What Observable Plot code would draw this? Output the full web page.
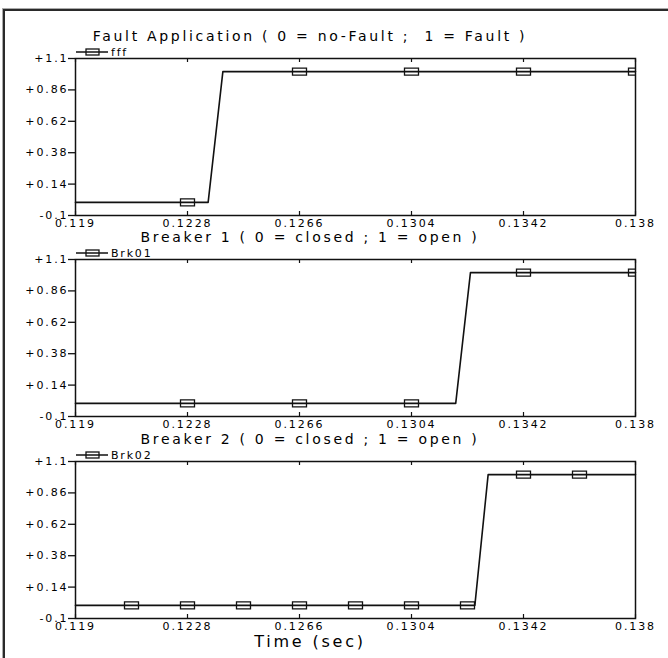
<!DOCTYPE html>
<html><head><meta charset="utf-8">
<script src="https://cdn.jsdelivr.net/npm/d3@7"></script>
<script src="https://cdn.jsdelivr.net/npm/@observablehq/plot@0.6"></script>
<style>
html,body{margin:0;padding:0;background:#fff;}
body{width:668px;height:658px;overflow:hidden;position:relative;font-family:"DejaVu Sans",sans-serif;color:#000;}
#frame{position:absolute;left:3px;top:9px;width:720px;height:720px;border-left:2px solid #2a2a2a;border-top:2px solid #2a2a2a;box-shadow:-1px -1px 0 #aaa;}
.title{position:absolute;left:310px;transform:translate(-50%,-50%);font-size:14px;letter-spacing:2.7px;white-space:nowrap;}
.xlabel{position:absolute;left:310px;transform:translate(-50%,-50%);font-size:16px;letter-spacing:2.8px;white-space:nowrap;}
.legend{position:absolute;left:76px;display:flex;align-items:center;height:10px;transform:translateY(-50%);font-size:11px;letter-spacing:1.8px;}
.legend svg{display:block;margin-right:3px;}
.panel{position:absolute;left:0;}
.panel svg text{letter-spacing:1.9px;}
</style></head>
<body>
<div id="frame"></div>
<div id="root"></div>
<script>
// ---- data ----
const xTicks = [0.119, 0.1228, 0.1266, 0.1304, 0.1342, 0.138];
const xTickLabels = ["0.119", "0.1228", "0.1266", "0.1304", "0.1342", "0.138"];
const yTicks = [-0.1, 0.14, 0.38, 0.62, 0.86, 1.1];
const yTickLabels = ["-0.1", "+0.14", "+0.38", "+0.62", "+0.86", "+1.1"];

const titles = [
  "Fault Application ( 0 = no-Fault ;\u00a0 1 = Fault )",
  "Breaker 1 ( 0 = closed ; 1 = open )",
  "Breaker 2 ( 0 = closed ; 1 = open )"
];
const seriesNames = ["fff", "Brk01", "Brk02"];
const xAxisTitle = "Time (sec)";

const fffTime = [0.119, 0.1235, 0.1240, 0.138];
const fffValue = [0, 0, 1, 1];
const fffMarkTime = [0.1228, 0.1266, 0.1304, 0.1342, 0.138];
const fffMarkValue = [0, 1, 1, 1, 1];

const brk01Time = [0.119, 0.1319, 0.1324, 0.138];
const brk01Value = [0, 0, 1, 1];
const brk01MarkTime = [0.1228, 0.1266, 0.1304, 0.1342, 0.138];
const brk01MarkValue = [0, 0, 0, 1, 1];

const brk02Time = [0.119, 0.13255, 0.1330, 0.138];
const brk02Value = [0, 0, 1, 1];
const brk02MarkTime = [0.1209, 0.1228, 0.1247, 0.1266, 0.1285, 0.1304, 0.1323, 0.1342, 0.1361];
const brk02MarkValue = [0, 0, 0, 0, 0, 0, 0, 1, 1];

// ---- build ----
const series = [
  {time: fffTime, value: fffValue, mt: fffMarkTime, mv: fffMarkValue},
  {time: brk01Time, value: brk01Value, mt: brk01MarkTime, mv: brk01MarkValue},
  {time: brk02Time, value: brk02Value, mt: brk02MarkTime, mv: brk02MarkValue}
];

const rectSymbol = {draw(ctx) { ctx.moveTo(-7, -3.5); ctx.lineTo(7, -3.5); ctx.lineTo(7, 3.5); ctx.lineTo(-7, 3.5); ctx.closePath(); }};

const frameTops = [58, 259, 461];
const plotH = 157, mTop = 6, mBottom = 18;
const root = document.getElementById("root");

series.forEach((s, i) => {
  const rows = s.time.map((t, j) => ({t, v: s.value[j]}));
  const marks = s.mt.map((t, j) => ({t, v: s.mv[j]}));

  const title = document.createElement("div");
  title.className = "title";
  title.textContent = titles[i];
  title.style.top = (frameTops[i] - 22) + "px";
  root.appendChild(title);

  const leg = document.createElement("div");
  leg.className = "legend";
  leg.style.top = (frameTops[i] - 6) + "px";
  leg.innerHTML = `<svg width="32" height="10"><line x1="0" y1="5" x2="32" y2="5" stroke="#111" stroke-width="1.5"/><rect x="10" y="2" width="13" height="6" fill="none" stroke="#111" stroke-width="1.3"/></svg><span>${seriesNames[i]}</span>`;
  root.appendChild(leg);

  const chart = Plot.plot({
    width: 668,
    height: plotH + mTop + mBottom,
    marginLeft: 75, marginRight: 33, marginTop: mTop, marginBottom: mBottom,
    style: {fontFamily: "DejaVu Sans, sans-serif", fontSize: "11px", color: "#000", background: "transparent", overflow: "visible"},
    x: {domain: [xTicks[0], xTicks[xTicks.length - 1]]},
    y: {domain: [yTicks[0], yTicks[yTicks.length - 1]]},
    marks: [
      Plot.axisY({ticks: yTicks, label: null, tickFormat: d => yTickLabels[yTicks.indexOf(d)], tickSize: 7, tickPadding: 0, stroke: "#111", strokeWidth: 1.3}),
      Plot.axisX({ticks: xTicks, label: null, anchor: "bottom", tickFormat: d => xTickLabels[xTicks.indexOf(d)], tickSize: 0, tickPadding: 4}),
      Plot.axisX({ticks: xTicks, label: null, anchor: "bottom", tickFormat: () => "", tickSize: 4, dy: -4, stroke: "#111", strokeWidth: 1.2}),
      Plot.axisX({ticks: xTicks, label: null, anchor: "top", tickFormat: () => "", tickSize: 3, dy: 3, stroke: "#111", strokeWidth: 1.2}),
      Plot.frame({stroke: "#111", strokeWidth: 1.5}),
      Plot.line(rows, {x: "t", y: "v", stroke: "#111", strokeWidth: 1.6}),
      Plot.dot(marks, {x: "t", y: "v", symbol: rectSymbol, stroke: "#111", strokeWidth: 1.3, fill: "none", clip: true})
    ]
  });
  const wrap = document.createElement("div");
  wrap.className = "panel";
  wrap.style.top = (frameTops[i] - mTop) + "px";
  wrap.appendChild(chart);
  root.appendChild(wrap);
});

const xl = document.createElement("div");
xl.className = "xlabel";
xl.textContent = xAxisTitle;
xl.style.top = "641px";
root.appendChild(xl);
</script>
</body></html>
